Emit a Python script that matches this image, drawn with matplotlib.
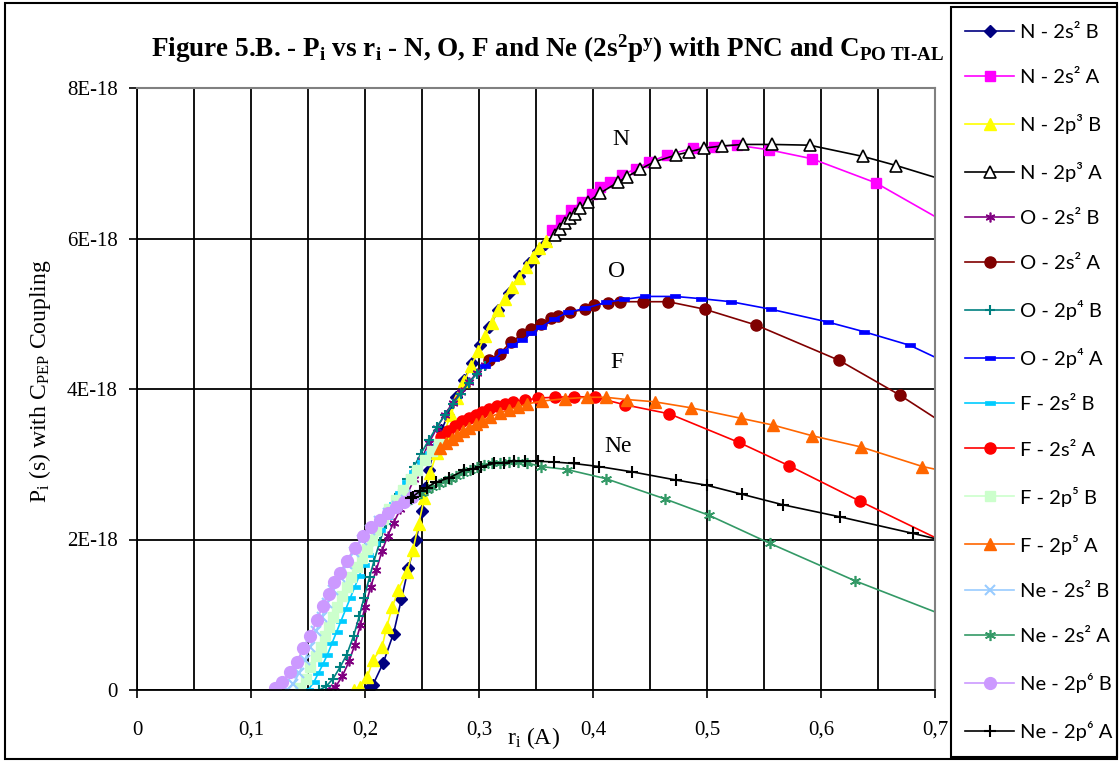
import matplotlib
matplotlib.use("Agg")
import matplotlib.pyplot as plt
from matplotlib.patches import Rectangle
from matplotlib.ticker import MultipleLocator, FuncFormatter

# ---------------- data (P in units of 1E-18) ----------------
n_s2_b_r = [0.203, 0.207, 0.216, 0.225, 0.232, 0.238, 0.245, 0.250, 0.253, 0.256, 0.261, 0.267, 0.273, 0.280,
            0.287, 0.294, 0.301, 0.309, 0.317, 0.326, 0.335, 0.344, 0.352, 0.358]
n_s2_b_p = [0.01, 0.07, 0.36, 0.75, 1.21, 1.62, 2.00, 2.38, 2.68, 2.93, 3.20, 3.45, 3.66, 3.90,
            4.12, 4.35, 4.58, 4.82, 5.05, 5.28, 5.50, 5.68, 5.83, 5.93]

n_s2_a_r = [0.364, 0.372, 0.381, 0.390, 0.399, 0.406, 0.415, 0.425, 0.438, 0.449, 0.465, 0.488, 0.506, 0.526,
            0.554, 0.592, 0.648, 0.720]
n_s2_a_p = [6.11, 6.24, 6.38, 6.49, 6.59, 6.69, 6.75, 6.84, 6.93, 7.01, 7.11, 7.20, 7.22, 7.24,
            7.18, 7.06, 6.74, 6.12]

n_p3_b_r = [0.190, 0.196, 0.202, 0.207, 0.215, 0.219, 0.224, 0.229, 0.237, 0.242, 0.247, 0.252, 0.257, 0.263,
            0.269, 0.275, 0.281, 0.287, 0.293, 0.299, 0.305, 0.311, 0.317, 0.323, 0.329, 0.335, 0.341, 0.347,
            0.353, 0.359]
n_p3_b_p = [0.00, 0.04, 0.17, 0.40, 0.57, 0.84, 1.10, 1.33, 1.57, 1.86, 2.20, 2.55, 2.88, 3.15,
            3.40, 3.65, 3.88, 4.10, 4.30, 4.50, 4.70, 4.88, 5.05, 5.20, 5.35, 5.48, 5.62, 5.75,
            5.87, 5.97]

n_p3_a_r = [0.367, 0.371, 0.375, 0.380, 0.384, 0.389, 0.396, 0.406, 0.422, 0.430, 0.441, 0.454, 0.473, 0.484,
            0.497, 0.513, 0.532, 0.557, 0.590, 0.637, 0.666, 0.720]
n_p3_a_p = [6.04, 6.13, 6.20, 6.27, 6.33, 6.40, 6.49, 6.60, 6.75, 6.82, 6.92, 7.02, 7.11, 7.15,
            7.20, 7.23, 7.25, 7.25, 7.24, 7.09, 6.97, 6.72]

o_s2_b_r = [0.168, 0.174, 0.180, 0.186, 0.191, 0.196, 0.200, 0.205, 0.210, 0.215, 0.220, 0.225, 0.231, 0.237,
            0.243, 0.249, 0.256, 0.263, 0.270, 0.277, 0.284, 0.291, 0.298, 0.305]
o_s2_b_p = [0.00, 0.04, 0.18, 0.38, 0.60, 0.86, 1.10, 1.37, 1.60, 1.85, 2.05, 2.22, 2.40, 2.60,
            2.80, 3.05, 3.28, 3.48, 3.66, 3.82, 3.96, 4.09, 4.21, 4.32]

o_s2_a_r = [0.309, 0.318, 0.328, 0.338, 0.346, 0.354, 0.363, 0.369, 0.380, 0.393, 0.401, 0.413, 0.424, 0.444,
            0.466, 0.498, 0.543, 0.616, 0.669, 0.720]
o_s2_a_p = [4.38, 4.47, 4.62, 4.73, 4.80, 4.86, 4.94, 4.97, 5.02, 5.06, 5.12, 5.14, 5.16, 5.16,
            5.16, 5.06, 4.85, 4.38, 3.92, 3.42]

o_p4_b_r = [0.160, 0.166, 0.172, 0.178, 0.184, 0.190, 0.195, 0.199, 0.204, 0.208, 0.213, 0.218, 0.224, 0.230,
            0.237, 0.243, 0.249, 0.256, 0.263, 0.270, 0.277, 0.284, 0.291, 0.298, 0.305]
o_p4_b_p = [0.00, 0.05, 0.15, 0.30, 0.47, 0.72, 0.98, 1.22, 1.50, 1.72, 1.97, 2.20, 2.40, 2.60,
            2.80, 2.97, 3.14, 3.32, 3.50, 3.65, 3.80, 3.94, 4.08, 4.20, 4.31]

o_p4_a_r = [0.305, 0.313, 0.321, 0.329, 0.338, 0.346, 0.354, 0.366, 0.378, 0.393, 0.411, 0.427, 0.446, 0.472,
            0.495, 0.521, 0.556, 0.606, 0.638, 0.678, 0.720]
o_p4_a_p = [4.30, 4.40, 4.50, 4.58, 4.65, 4.74, 4.82, 4.93, 5.02, 5.07, 5.15, 5.19, 5.23, 5.23,
            5.20, 5.16, 5.06, 4.89, 4.76, 4.58, 4.28]

f_s2_b_r = [0.150, 0.155, 0.159, 0.163, 0.167, 0.171, 0.175, 0.179, 0.183, 0.187, 0.191, 0.195, 0.199, 0.203,
            0.208, 0.213, 0.219, 0.225, 0.231, 0.237, 0.243, 0.250, 0.257, 0.264]
f_s2_b_p = [0.00, 0.10, 0.22, 0.34, 0.47, 0.62, 0.77, 0.92, 1.07, 1.22, 1.37, 1.52, 1.66, 1.80,
            1.96, 2.12, 2.30, 2.47, 2.62, 2.76, 2.90, 3.03, 3.15, 3.26]

f_s2_a_r = [0.267, 0.273, 0.279, 0.285, 0.291, 0.297, 0.303, 0.309, 0.316, 0.323, 0.330, 0.340, 0.352, 0.367,
            0.383, 0.402, 0.428, 0.467, 0.528, 0.572, 0.634, 0.720]
f_s2_a_p = [3.36, 3.44, 3.51, 3.57, 3.62, 3.66, 3.70, 3.74, 3.77, 3.80, 3.83, 3.85, 3.88, 3.89,
            3.90, 3.89, 3.79, 3.67, 3.29, 2.98, 2.51, 1.88]

f_p5_b_r = [0.143, 0.148, 0.152, 0.157, 0.161, 0.165, 0.168, 0.172, 0.175, 0.180, 0.184, 0.188, 0.193, 0.197,
            0.202, 0.206, 0.210, 0.216, 0.221, 0.227, 0.233, 0.240, 0.246, 0.253, 0.259, 0.265]
f_p5_b_p = [0.02, 0.15, 0.31, 0.45, 0.57, 0.72, 0.84, 0.97, 1.10, 1.25, 1.37, 1.50, 1.64, 1.75,
            1.88, 2.00, 2.12, 2.27, 2.40, 2.53, 2.66, 2.80, 2.93, 3.06, 3.17, 3.27]

f_p5_a_r = [0.266, 0.271, 0.276, 0.281, 0.286, 0.291, 0.297, 0.303, 0.310, 0.318, 0.326, 0.334, 0.342, 0.355,
            0.375, 0.395, 0.411, 0.430, 0.454, 0.486, 0.530, 0.558, 0.592, 0.635, 0.689, 0.720]
f_p5_a_p = [3.22, 3.28, 3.34, 3.39, 3.44, 3.48, 3.53, 3.58, 3.63, 3.68, 3.72, 3.76, 3.80, 3.84,
            3.87, 3.89, 3.89, 3.86, 3.83, 3.75, 3.61, 3.52, 3.38, 3.23, 2.97, 2.87]

ne_s2_b_r = [0.132, 0.137, 0.142, 0.147, 0.152, 0.157, 0.162, 0.167, 0.172, 0.178, 0.184, 0.190, 0.197, 0.204,
             0.212, 0.220, 0.228, 0.236, 0.243]
ne_s2_b_p = [0.00, 0.08, 0.22, 0.40, 0.57, 0.78, 0.97, 1.16, 1.33, 1.50, 1.67, 1.84, 2.00, 2.13,
             2.25, 2.35, 2.44, 2.52, 2.59]

ne_s2_a_r = [0.240, 0.244, 0.249, 0.254, 0.259, 0.265, 0.270, 0.275, 0.280, 0.286, 0.292, 0.298, 0.304, 0.311,
             0.318, 0.326, 0.334, 0.342, 0.354, 0.377, 0.411, 0.463, 0.502, 0.555, 0.630, 0.720]
ne_s2_a_p = [2.54, 2.58, 2.62, 2.66, 2.70, 2.74, 2.78, 2.81, 2.85, 2.89, 2.93, 2.96, 2.99, 3.01,
             3.02, 3.03, 3.03, 3.02, 2.97, 2.93, 2.81, 2.54, 2.32, 1.95, 1.45, 0.92]

ne_p6_b_r = [0.121, 0.127, 0.134, 0.140, 0.146, 0.152, 0.158, 0.163, 0.168, 0.173, 0.178, 0.184, 0.191, 0.198,
             0.205, 0.213, 0.220, 0.227, 0.234, 0.241]
ne_p6_b_p = [0.03, 0.10, 0.24, 0.37, 0.56, 0.72, 0.93, 1.12, 1.28, 1.43, 1.56, 1.72, 1.89, 2.04,
             2.16, 2.26, 2.35, 2.43, 2.50, 2.57]

ne_p6_a_r = [0.240, 0.242, 0.248, 0.254, 0.262, 0.274, 0.287, 0.295, 0.302, 0.313, 0.322, 0.331, 0.340, 0.352,
             0.366, 0.383, 0.405, 0.434, 0.473, 0.500, 0.531, 0.567, 0.617, 0.681, 0.720]
ne_p6_a_p = [2.55, 2.57, 2.64, 2.69, 2.76, 2.82, 2.92, 2.94, 2.97, 3.01, 3.02, 3.04, 3.04, 3.04,
             3.03, 3.01, 2.97, 2.90, 2.79, 2.72, 2.60, 2.46, 2.30, 2.08, 1.94]

series_labels = ["N - 2s² B", "N - 2s² A", "N - 2p³ B", "N - 2p³ A",
                 "O - 2s² B", "O - 2s² A", "O - 2p⁴ B", "O - 2p⁴ A",
                 "F - 2s² B", "F - 2s² A", "F - 2p⁵ B", "F - 2p⁵ A",
                 "Ne - 2s² B", "Ne - 2s² A", "Ne - 2p⁶ B", "Ne - 2p⁶ A"]
x_tick_values = [0, 0.1, 0.2, 0.3, 0.4, 0.5, 0.6, 0.7]
y_tick_values = [0, 2, 4, 6, 8]
curve_names = ["N", "O", "F", "Ne"]

SCALE = 1e-18
series_data = [
    (n_s2_b_r, n_s2_b_p), (n_s2_a_r, n_s2_a_p), (n_p3_b_r, n_p3_b_p), (n_p3_a_r, n_p3_a_p),
    (o_s2_b_r, o_s2_b_p), (o_s2_a_r, o_s2_a_p), (o_p4_b_r, o_p4_b_p), (o_p4_a_r, o_p4_a_p),
    (f_s2_b_r, f_s2_b_p), (f_s2_a_r, f_s2_a_p), (f_p5_b_r, f_p5_b_p), (f_p5_a_r, f_p5_a_p),
    (ne_s2_b_r, ne_s2_b_p), (ne_s2_a_r, ne_s2_a_p), (ne_p6_b_r, ne_p6_b_p), (ne_p6_a_r, ne_p6_a_p),
]

dash = [(-1, -0.38), (1, -0.38), (1, 0.38), (-1, 0.38), (-1, -0.38)]
star = (6, 2, 0)
styles = [
    dict(color="#000080", marker="D", ms=6.5, mfc="#000080", mec="#000080"),
    dict(color="#FF00FF", marker="s", ms=7, mfc="#FF00FF", mec="#FF00FF"),
    dict(color="#FFFF00", marker="^", ms=8.5, mfc="#FFFF00", mec="#FFFF00"),
    dict(color="#000000", marker="^", ms=8, mfc="white", mec="#000000", mew=1.2),
    dict(color="#800080", marker=star, ms=7, mfc="#800080", mec="#800080", mew=1.2),
    dict(color="#800000", marker="o", ms=8, mfc="#800000", mec="#800000"),
    dict(color="#008080", marker="+", ms=7, mfc="#008080", mec="#008080", mew=1.5),
    dict(color="#0000FF", marker=dash, ms=7, mfc="#0000FF", mec="#0000FF", mew=0.5),
    dict(color="#00CCFF", marker=dash, ms=7, mfc="#00CCFF", mec="#00CCFF", mew=0.5),
    dict(color="#FF0000", marker="o", ms=8, mfc="#FF0000", mec="#FF0000"),
    dict(color="#CCFFCC", marker="s", ms=7, mfc="#CCFFCC", mec="#CCFFCC"),
    dict(color="#FF6600", marker="^", ms=9, mfc="#FF6600", mec="#FF6600"),
    dict(color="#99CCFF", marker="x", ms=7, mfc="#99CCFF", mec="#99CCFF", mew=1.5),
    dict(color="#339966", marker=star, ms=8, mfc="#339966", mec="#339966", mew=1.2),
    dict(color="#CC99FF", marker="o", ms=8.5, mfc="#CC99FF", mec="#CC99FF"),
    dict(color="#000000", marker="+", ms=9, mfc="#000000", mec="#000000", mew=1.5),
]

plt.rcParams["mathtext.fontset"] = "custom"
plt.rcParams["mathtext.rm"] = "Liberation Serif"
plt.rcParams["mathtext.it"] = "Liberation Serif:italic"
plt.rcParams["mathtext.bf"] = "Liberation Serif:bold"

W, H = 1120, 762
fig = plt.figure(figsize=(W / 100, H / 100), dpi=100)
fig.patch.set_facecolor("white")

x0, x1, y0, y1 = 137, 935, 88, 690
ax = fig.add_axes([x0 / W, 1 - y1 / H, (x1 - x0) / W, (y1 - y0) / H])

handles = []
for (r, p), st, lab in zip(series_data, styles, series_labels):
    h, = ax.plot(r, [v * SCALE for v in p], lw=1.2, label=lab, **st)
    handles.append(h)

ax.set_xlim(0, 0.7)
ax.set_ylim(0, 8 * SCALE)
ax.set_xticks(x_tick_values)
ax.xaxis.set_minor_locator(MultipleLocator(0.05))
ax.set_yticks([v * SCALE for v in y_tick_values])
ax.xaxis.set_major_formatter(FuncFormatter(lambda v, pos: "0" if abs(v) < 1e-9 else ("%.1f" % v).replace(".", ",")))
ax.yaxis.set_major_formatter(FuncFormatter(lambda v, pos: "0" if abs(v) < 1e-30 else "%dE-18" % round(v / SCALE)))

ax.grid(True, which="both", axis="x", color="black", lw=1.3)
ax.grid(True, which="major", axis="y", color="black", lw=1.3)
ax.set_axisbelow(True)
ax.tick_params(axis="both", which="major", direction="out", length=6, width=1.2, color="black")
ax.tick_params(axis="x", which="minor", length=0)
ax.tick_params(axis="x", which="major", pad=16)
ax.tick_params(axis="y", which="major", pad=8)
for lbl in ax.get_xticklabels() + ax.get_yticklabels():
    lbl.set_fontfamily("Liberation Serif")
    lbl.set_fontsize(15)
for s in ["left", "bottom"]:
    ax.spines[s].set_color("black")
    ax.spines[s].set_linewidth(1.3)
for s in ["top", "right"]:
    ax.spines[s].set_color("#808080")
    ax.spines[s].set_linewidth(1.5)

# curve labels
label_pos = [(0.424, 7.31), (0.421, 5.56), (0.421, 4.35), (0.422, 3.24)]
for name, (lx, ly) in zip(curve_names, label_pos):
    ax.text(lx, ly * SCALE, name, fontsize=17, family="Liberation Serif", ha="center", va="center")

# title
fig.text(548 / W, 1 - 57 / H,
         r"Figure 5.B. - P$_\mathbf{i}$ vs r$_\mathbf{i}$ - N, O, F and Ne (2s$^\mathbf{2}$p$^\mathbf{y}$) with PNC and C$_\mathbf{PO\ TI‐AL}$",
         ha="center", va="baseline", fontsize=19.5, family="Liberation Serif", weight="bold")

# axis titles
fig.text(40 / W, 1 - 381 / H, r"P$_\mathrm{i}$ (s) with C$_\mathrm{PEP}$ Coupling", rotation=90,
         ha="center", va="center", fontsize=17, family="Liberation Serif")
fig.text(533 / W, 1 - 738 / H, r"r$_\mathrm{i}$ (A)", ha="center", va="center", fontsize=17,
         family="Liberation Serif")

# outer frame and legend box
fig.patches.append(Rectangle((5 / W, 1 - 759 / H), (1117 - 5) / W, (759 - 3) / H, transform=fig.transFigure,
                             fill=False, ec="black", lw=1.5))
fig.patches.append(Rectangle((951 / W, 1 - 757 / H), (1117 - 951) / W, (757 - 7) / H, transform=fig.transFigure,
                             fill=False, ec="black", lw=1.5))

leg = fig.legend(handles, series_labels, loc="upper left", bbox_to_anchor=(965 / W, 1 - 24 / H),
                 bbox_transform=fig.transFigure, frameon=False, borderaxespad=0, borderpad=0,
                 prop={"family": ["Lato", "DejaVu Sans"], "size": 14.5},
                 handlelength=2.45, handletextpad=0.3, labelspacing=1.39)

fig.savefig("out.png", dpi=100)
